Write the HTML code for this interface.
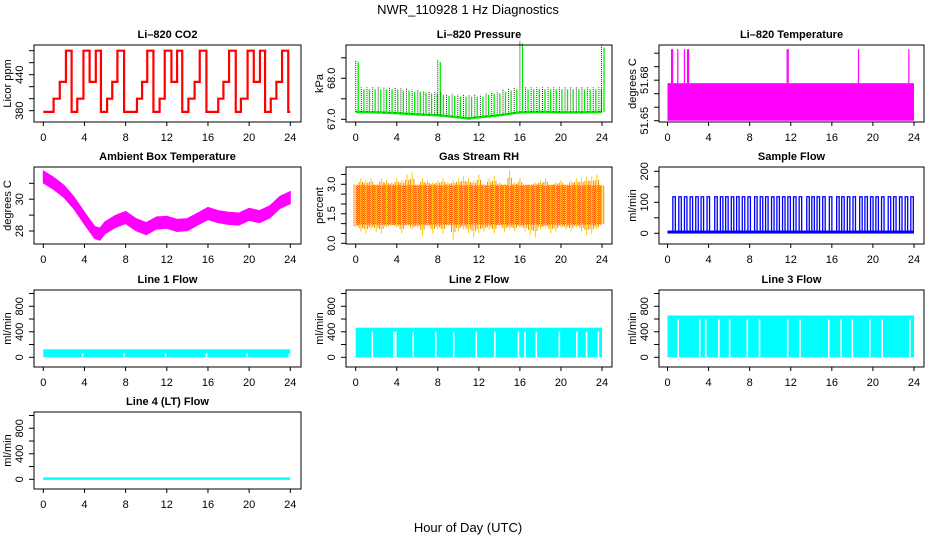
<!DOCTYPE html>
<html><head><meta charset="utf-8"><style>
body{margin:0;background:#fff}
svg{display:block;font-family:"Liberation Sans",Arial,sans-serif}
</style></head><body>
<svg id="c" width="936" height="540" viewBox="0 0 936 540">
<defs>
<pattern id="rhpat" width="2" height="2" patternUnits="userSpaceOnUse">
<rect width="2" height="2" fill="#ffee00"/><rect width="1" height="1" fill="#ff3a00"/><rect x="1" y="1" width="1" height="1" fill="#ff3a00"/>
</pattern>
</defs>
<text x="468" y="14" font-size="13" text-anchor="middle">NWR_110928  1 Hz Diagnostics</text>
<text x="468" y="532" font-size="13" text-anchor="middle">Hour of Day (UTC)</text>
</svg>
<script>
// ---- data ----
const hourTicks = [0,4,8,12,16,20,24];
// CO2 step series
const co2Times = [0,1.0,1.6,2.2,2.75,3.3,3.9,4.5,5.1,5.6,6.2,6.7,7.2,7.85,9.1,9.6,10.1,10.7,11.3,11.8,12.45,13.0,13.5,14.1,14.7,15.2,15.85,17.0,17.5,18.05,18.7,19.2,19.85,20.45,21.05,21.55,22.1,22.65,23.2,23.8,24];
const co2Values = [378,400,428,480,378,400,480,428,480,378,400,428,480,378,400,428,480,378,400,480,428,480,378,400,428,480,378,400,428,480,378,400,480,428,480,378,400,428,480,378,378];
// Pressure
const presBaseHours = [0,2,4,6,8,10,11,12,14,16,18,20,22,24];
const presBaseValues = [67.18,67.17,67.15,67.12,67.1,67.05,67.02,67.05,67.1,67.17,67.18,67.17,67.17,67.18];
const presSpikeTimes = [0,0.55,1.1,1.65,2.2,2.75,3.3,3.85,4.4,4.95,5.5,6.05,6.6,7.15,7.7,8.0,8.3,8.85,9.4,9.95,10.5,11.05,11.6,12.15,12.7,13.25,13.8,14.35,14.9,15.45,16.0,16.55,17.1,17.65,18.2,18.75,19.3,19.85,20.4,20.95,21.5,22.05,22.6,23.15,23.7,23.95];
const presSpikeValues = [68.45,67.78,67.78,67.78,67.78,67.78,67.78,67.78,67.75,67.75,67.72,67.72,67.7,67.68,67.68,68.45,67.65,67.62,67.62,67.6,67.6,67.6,67.6,67.6,67.65,67.67,67.68,67.72,67.75,67.78,68.9,67.78,67.78,67.78,67.78,67.78,67.78,67.78,67.78,67.78,67.78,67.78,67.78,67.78,67.78,68.8];
// Li-820 temperature
const tempLow = 51.65, tempHigh = 51.6778;
const tempSpikeTimes = [0.4,0.5,1.0,1.65,1.95,2.05,11.65,11.75,18.6,23.5];
const tempSpikeValue = 51.703;
// Ambient box temperature
const ambHours = [0,1,2,3,4,5,5.5,6,7,8,9,10,11,12,13,14,15,16,17,18,19,20,21,22,23,24];
const ambValues = [31.4,31.0,30.5,29.75,28.8,27.9,27.8,28.2,28.6,28.85,28.4,28.15,28.5,28.55,28.35,28.4,28.75,29.1,28.9,28.8,28.75,29.05,28.9,29.2,29.8,30.1];
const ambHalfWidth = 0.38;
// Gas stream RH
const rhHours = [0,0.5,1,1.5,2,2.5,3,3.5,4,4.5,5,5.5,6,6.5,7,7.5,8,8.5,9,9.5,10,10.5,11,11.5,12,12.5,13,13.5,14,14.5,15,15.5,16,16.5,17,17.5,18,18.5,19,19.5,20,20.5,21,21.5,22,22.5,23,23.5,24];
const rhHigh = [3.0,3.3,3.2,3.3,3.0,3.3,3.2,3.1,3.3,3.2,3.5,3.6,3.0,3.3,3.2,3.1,3.2,3.3,3.1,3.2,3.3,3.4,3.3,3.2,3.5,3.0,3.3,3.4,3.1,3.0,3.7,3.1,3.3,3.0,3.0,3.1,3.2,3.3,3.0,3.1,3.2,3.0,3.2,3.3,3.3,3.4,3.4,3.5,2.9];
const rhLow = [0.8,0.6,0.5,0.7,0.6,0.5,0.8,0.9,0.8,0.5,0.9,0.7,0.8,0.4,0.9,0.5,0.7,0.5,0.9,0.2,0.6,0.7,0.5,0.3,0.5,0.6,0.7,0.5,0.9,0.6,0.7,0.6,0.8,0.6,0.4,0.3,0.7,0.8,0.5,0.6,0.8,0.7,0.6,0.8,0.6,0.4,0.5,0.7,1.0];
const rhCoreHigh = 2.95, rhCoreLow = 0.95;
// Sample flow
const sfPulseTimes = [0.52,1.10,1.65,2.20,2.75,3.27,3.85,4.60,5.15,5.66,6.21,6.73,7.28,7.83,8.48,9.03,9.55,10.13,10.65,11.20,11.72,12.27,12.82,13.56,14.05,14.56,15.11,15.76,16.47,16.96,17.51,18.06,18.71,19.22,19.77,20.29,20.84,21.49,22.01,22.59,23.14,23.69];
const sfPeak = 118, sfBase = 4;
// Line flows
const l1Level = 125, l1Gaps = [3.82,7.86,11.88,15.86,19.8,23.9];
const l2Level = 465, l2Gaps = [1.62,3.72,3.9,5.6,7.8,9.55,11.75,13.56,15.86,16.5,17.6,19.84,21.55,22.5,23.65];
const l3Level = 655, l3Gaps = [1.04,3.14,3.72,5.0,6.05,7.77,8.96,11.7,12.9,15.7,16.9,18.0,19.7,20.9,23.6];
const l4Level = 10;

// ---- layout ----
const svg = document.getElementById('c');
const NS = 'http://www.w3.org/2000/svg';
const cols = [{l:34,r:301,x0:43.3,x1:290.3},{l:346,r:612,x0:355.7,x1:602},{l:659,r:924,x0:667.5,x1:914}];
const rows = [45,167,290,412];
const H = 77;
function mk(tag, attrs, parent){const e=document.createElementNS(NS,tag);for(const k in attrs)e.setAttribute(k,attrs[k]);(parent||svg).appendChild(e);return e;}

function panel(ci, ri, title, slug, ytitle, yref, yk, yticks, ylabels){
  const c = cols[ci], top = rows[ri], bot = top + H;
  const g = mk('g',{});
  
  
  const X = h => c.x0 + (h/24)*(c.x1-c.x0);
  const Y = v => yref.y - (v - yref.v)*yk;
  const plot = mk('g',{},g);
  
  
  const t = mk('text',{x:(c.l+c.r)/2,y:top-7,'font-size':11,'font-weight':'bold','text-anchor':'middle'},g);
  t.textContent = title;
  
  
  const xa = mk('g',{},g);
  
  
  mk('line',{x1:X(0),x2:X(24),y1:bot,y2:bot,stroke:'#000'},xa);
  hourTicks.forEach(h=>{
    mk('line',{x1:X(h),x2:X(h),y1:bot,y2:bot+4,stroke:'#000'},xa);
    const tx = mk('text',{x:X(h),y:bot+19,'font-size':11,'text-anchor':'middle'},xa);
    tx.textContent = h;
    
    
  });
  const ya = mk('g',{},g);
  
  
  yticks.forEach(v=>{
    const y = Y(v);
    mk('line',{x1:c.l-5,x2:c.l,y1:y,y2:y,stroke:'#000'},ya);
  });
  ylabels.forEach(s=>{
    const y = Y(parseFloat(s));
    const tx = mk('text',{x:c.l-11,y:y,'font-size':11,'text-anchor':'middle',transform:`rotate(-90 ${c.l-11} ${y})`},ya);
    tx.textContent = s;
    
    
  });
  const yt = mk('text',{x:c.l-23,y:(top+bot)/2,'font-size':11,'text-anchor':'middle',transform:`rotate(-90 ${c.l-23} ${(top+bot)/2})`},g);
  yt.textContent = ytitle;
  
  
  const box = mk('rect',{x:c.l,y:top,width:c.r-c.l,height:H,fill:'none',stroke:'#000'},g);
  
  
  return {X,Y,plot,top,bot};
}
function range(a,b,s){const o=[];for(let v=a;v<=b+1e-9;v+=s)o.push(+v.toFixed(4));return o;}

// CO2
(function(){
  const p = panel(0,0,'Li–820 CO2','co2','Licor ppm',{v:380,y:110.7},0.6,range(380,480,20),['380','440']);
  let d='';
  for(let i=0;i<co2Times.length-1;i++){
    const x0=p.X(co2Times[i]), x1=p.X(co2Times[i+1]), y=p.Y(co2Values[i]);
    d += (i===0?'M':'L')+x0+','+y+' L'+x1+','+y+' ';
  }
  const e = mk('path',{d:d,fill:'none',stroke:'#ff0000','stroke-width':2.2},p.plot);
  
  
})();

// Pressure
(function(){
  const p = panel(1,0,'Li–820 Pressure','pressure','kPa',{v:67,y:119.3},41,[67,67.5,68,68.5],['67.0','68.0']);
  const base = h=>{for(let i=0;i<presBaseHours.length-1;i++){if(h<=presBaseHours[i+1]){const f=(h-presBaseHours[i])/(presBaseHours[i+1]-presBaseHours[i]);return presBaseValues[i]+f*(presBaseValues[i+1]-presBaseValues[i]);}}return presBaseValues[presBaseValues.length-1];};
  let d='';
  presBaseHours.forEach((h,i)=>{d+=(i?'L':'M')+p.X(h)+','+p.Y(presBaseValues[i])+' ';});
  const b = mk('path',{d:d,fill:'none',stroke:'#00ee00','stroke-width':2.5},p.plot);
  
  
  presSpikeTimes.forEach((h,i)=>{
    const x=p.X(h), yb=p.Y(base(h)), yt=p.Y(presSpikeValues[i]);
    const s = mk('line',{x1:x+2.5,x2:x+2.5,y1:yb,y2:yt+2,stroke:'#00ee00','stroke-width':1.3},p.plot);
    
    
    const s2 = mk('line',{x1:x,x2:x,y1:yb,y2:yt,stroke:'#222','stroke-width':1,'stroke-dasharray':'1,1'},p.plot);
    
    
  });
})();

// Li-820 temperature
(function(){
  const p = panel(2,0,'Li–820 Temperature','li820-temp','degrees C',{v:51.65,y:120.7},1350,range(51.65,51.70,0.01),['51.65','51.68']);
  const r = mk('rect',{x:p.X(0),y:p.Y(tempHigh),width:p.X(24)-p.X(0),height:p.Y(tempLow)-p.Y(tempHigh),fill:'#ff00ff'},p.plot);
  
  
  tempSpikeTimes.forEach(h=>{
    const s = mk('line',{x1:p.X(h),x2:p.X(h),y1:p.Y(tempHigh),y2:Math.max(p.Y(tempSpikeValue),p.top+1),stroke:'#ff00ff','stroke-width':1.2},p.plot);
    
    
  });
})();

// Ambient
(function(){
  const p = panel(0,1,'Ambient Box Temperature','ambient-temp','degrees C',{v:28,y:231},15.9,[28,29,30,31],['28','30']);
  let up='',dn='';
  ambHours.forEach((h,i)=>{up+=(i?'L':'M')+p.X(h)+','+p.Y(ambValues[i]+ambHalfWidth)+' ';});
  for(let i=ambHours.length-1;i>=0;i--){dn+='L'+p.X(ambHours[i])+','+p.Y(ambValues[i]-ambHalfWidth)+' ';}
  const e = mk('path',{d:up+dn+'Z',fill:'#ff00ff',stroke:'#ff00ff','stroke-width':1},p.plot);
  
  
})();

// Gas stream RH
(function(){
  const p = panel(1,1,'Gas Stream RH','gas-rh','percent',{v:0,y:243.3},19.67,range(0,3.5,0.5),['0.0','1.5','3.0']);
  const r = mk('rect',{x:p.X(0),y:p.Y(rhCoreHigh),width:p.X(24)-p.X(0),height:p.Y(rhCoreLow)-p.Y(rhCoreHigh),fill:'url(#rhpat)'},p.plot);
  
  
  rhHours.forEach((h,i)=>{
    for(let k=-1;k<=1;k++){
      const x=p.X(h)+k*1.7;
      const s = mk('line',{x1:x,x2:x,y1:p.Y(k===0?rhLow[i]:(rhLow[i]+rhCoreLow)/2),y2:p.Y(k===0?rhHigh[i]:(rhHigh[i]+rhCoreHigh)/2),stroke:k===0?'#ffcc00':'#ff8800','stroke-width':1},p.plot);
      
      
    }
  });
})();

// Sample flow
(function(){
  const p = panel(2,1,'Sample Flow','sample-flow','ml/min',{v:0,y:233.3},0.31,range(0,200,50),['0','100','200']);
  const bl = mk('rect',{x:p.X(0),y:p.Y(sfBase)-1.5,width:p.X(24)-p.X(0),height:3,fill:'#0000ff'},p.plot);
  
  
  sfPulseTimes.forEach(h=>{
    const x=p.X(h);
    const e = mk('path',{d:`M${x},${p.Y(sfBase)} L${x},${p.Y(sfPeak)} L${x+2.5},${p.Y(sfPeak)} L${x+2.5},${p.Y(sfBase)}`,fill:'none',stroke:'#0000ff','stroke-width':1.3},p.plot);
    
    
  });
})();

// Line flows
function linePanel(ci,ri,title,slug,level,gaps){
  const p = panel(ci,ri,title,slug,'ml/min',{v:0,y:rows[ri]+H-9.7},0.0638,range(0,1000,200),['0','400','800']);
  const r = mk('rect',{x:p.X(0),y:p.Y(level),width:p.X(24)-p.X(0),height:p.Y(0)-p.Y(level),fill:'#00ffff'},p.plot);
  
  
  gaps.forEach(h=>{
    const g = mk('rect',{x:p.X(h)-0.8,y:p.Y(level)+4,width:1.6,height:p.Y(0)-p.Y(level)-4,fill:'#fff'},p.plot);
    
    
  });
}
linePanel(0,2,'Line 1 Flow','line1-flow',l1Level,l1Gaps);
linePanel(1,2,'Line 2 Flow','line2-flow',l2Level,l2Gaps);
linePanel(2,2,'Line 3 Flow','line3-flow',l3Level,l3Gaps);
(function(){
  const p = panel(0,3,'Line 4 (LT) Flow','line4-flow','ml/min',{v:0,y:rows[3]+H-9.7},0.0638,range(0,1000,200),['0','400','800']);
  const e = mk('line',{x1:p.X(0),x2:p.X(24),y1:p.Y(l4Level),y2:p.Y(l4Level),stroke:'#00ffff','stroke-width':2.5},p.plot);
  
  
})();
</script>
</body></html>
